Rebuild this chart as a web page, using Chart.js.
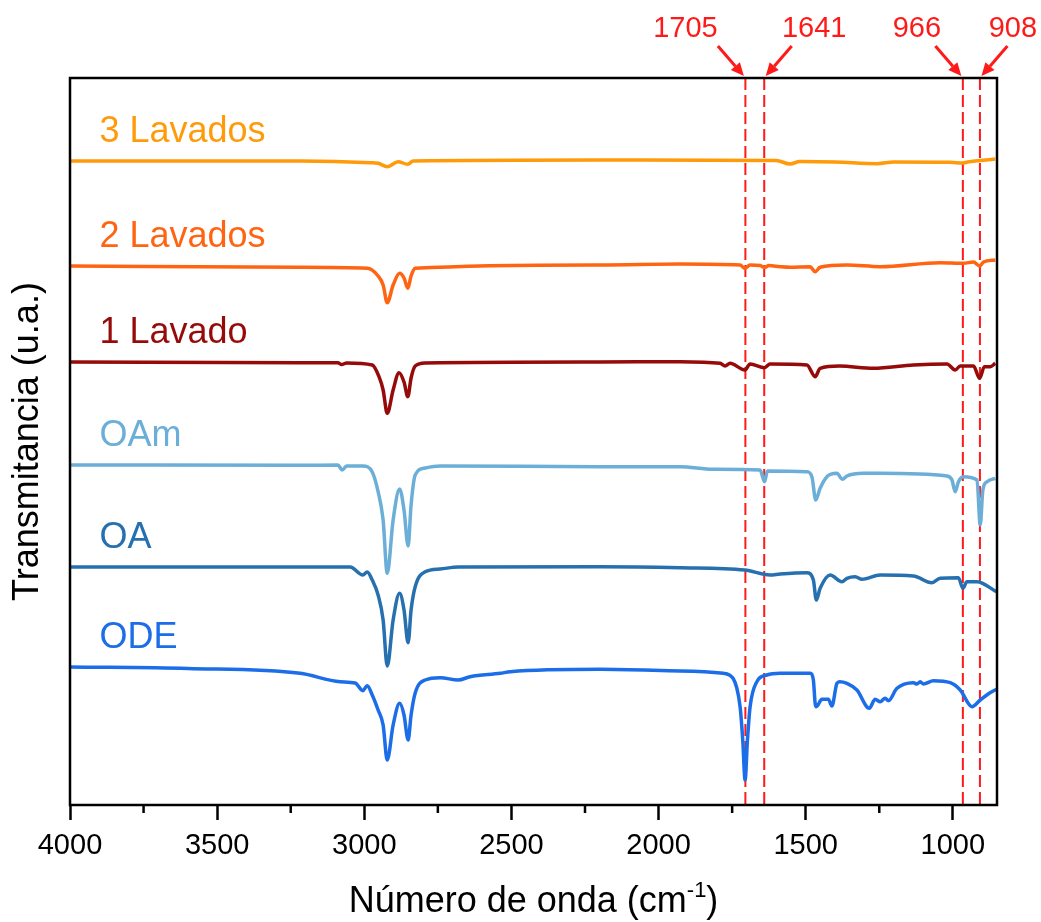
<!DOCTYPE html>
<html>
<head>
<meta charset="utf-8">
<script src="https://cdn.jsdelivr.net/npm/chart.js@4.4.1/dist/chart.umd.min.js"></script>
<style>
  body { margin: 0; background: #fff; }
  #wrap { width: 1041px; height: 922px; }
</style>
</head>
<body>
<div id="wrap"><canvas id="ftir"></canvas></div>
<script>
// espectros FTIR, desplazados verticalmente (u.a.)
const seriesNames = ['3 Lavados', '2 Lavados', '1 Lavado', 'OAm', 'OA', 'ODE'];
const seriesColors = ['#FF9A0A', '#FF6412', '#960A0A', '#6BAED8', '#2670B0', '#1C6DE8'];

const lav3X = [4000, 3218, 2980, 2953, 2922, 2885, 2852, 2834, 2199, 1600, 1553, 1520, 1400, 1257, 1200, 1009, 966, 950, 856];
const lav3Y = [644, 644, 642.3, 641.7, 638.3, 643.3, 640.7, 644, 645, 644.5, 641, 643.5, 643, 641.3, 643, 642.7, 642, 643, 646];

const lav2X = [4000, 3218, 2990, 2953, 2936, 2922, 2902, 2880, 2865, 2852, 2841, 2827, 2199, 1927, 1723, 1707, 1689, 1655, 1640, 1625, 1587, 1553, 1485, 1468, 1451, 1360, 1247, 1043, 964, 930, 909, 896, 856];
const lav2Y = [539, 537.7, 536.7, 529, 520, 502.3, 520, 531.7, 527, 516.7, 529, 536.7, 540, 541, 540, 536.7, 540, 539.5, 537.5, 539.5, 538.3, 537.7, 538.3, 533.3, 537.7, 540, 538.3, 542.3, 541.7, 543, 539, 543, 545];

const lav1X = [4000, 3218, 3090, 3077, 3060, 2973, 2950, 2936, 2922, 2902, 2882, 2865, 2852, 2841, 2827, 2793, 2199, 1927, 1791, 1774, 1757, 1707, 1689, 1640, 1621, 1496, 1468, 1451, 1385, 1270, 1134, 1020, 992, 975, 930, 909, 893, 873, 856];
const lav1Y = [443, 442.3, 442.3, 440.5, 442, 440, 428.3, 415, 391.7, 415, 432.3, 423, 408.3, 427, 439, 442, 443, 443.3, 441.7, 439, 441.7, 435, 441, 437.3, 441, 440, 428.3, 436.7, 439, 436.7, 440, 441, 435, 439, 439, 426.7, 438.3, 438.3, 441.7];

const oamX = [4000, 3218, 3090, 3075, 3060, 3005, 2973, 2953, 2936, 2922, 2902, 2880, 2865, 2851, 2841, 2827, 2793, 2742, 2199, 1927, 1814, 1655, 1640, 1630, 1496, 1479, 1466, 1451, 1428, 1394, 1375, 1360, 1304, 1247, 1020, 1003, 992, 981, 964, 918, 907, 898, 884, 856];
const oamY = [340, 339.7, 340, 335, 339, 339, 333, 313.3, 285, 231.7, 285, 316, 295, 259, 300, 330, 337, 339, 338.3, 338.3, 335.7, 335, 323.3, 334, 333.3, 328.3, 305, 316.7, 328.3, 331.7, 325.7, 329, 331.7, 331.7, 329, 325, 313.3, 323.3, 328.3, 325, 280, 315, 323.3, 326.7];

const oaX = [4000, 3218, 3048, 3005, 2990, 2973, 2953, 2936, 2922, 2902, 2880, 2865, 2851, 2841, 2827, 2793, 2742, 2681, 2199, 1927, 1707, 1621, 1587, 1496, 1474, 1464, 1451, 1417, 1377, 1360, 1332, 1309, 1247, 1134, 1071, 1043, 981, 966, 952, 918, 852];
const oaY = [238, 238, 238, 230, 233, 225, 210, 185, 139, 185, 211.7, 195, 162.3, 195, 218.3, 233.3, 236, 238, 238.3, 237.3, 235, 230, 231, 232.3, 225, 205, 216.7, 230, 223.3, 226.7, 228.3, 225.7, 230, 229, 222.3, 226.7, 227.3, 216.7, 223.3, 223.3, 213.3];

const odeX = [4000, 3600, 3218, 3082, 3031, 3005, 2990, 2973, 2953, 2936, 2922, 2902, 2880, 2865, 2851, 2841, 2827, 2793, 2742, 2681, 2640, 2538, 2504, 2199, 1927, 1780, 1747, 1723, 1714, 1706, 1698, 1689, 1666, 1632, 1587, 1485, 1474, 1468, 1464, 1445, 1423, 1411, 1394, 1385, 1360, 1326, 1284, 1264, 1247, 1230, 1219, 1190, 1134, 1122, 1111, 1100, 1066, 1009, 975, 935, 907, 880, 852];
const odeY = [138, 136.5, 131.7, 123.3, 122, 114.3, 119.3, 110, 95, 80, 45, 80, 101.7, 90, 65, 90, 112, 125, 127.3, 125, 128.3, 131.7, 133.3, 135.7, 134, 131.7, 126.7, 98.3, 65, 25, 65, 98.3, 123.3, 130, 131.7, 131.7, 125, 101.7, 98.3, 105.7, 105.7, 99, 121.7, 123.3, 121.7, 115, 96.7, 105.7, 103.3, 106.7, 104.3, 116.7, 122.3, 121, 123.3, 121, 124.3, 122.3, 115, 98.3, 105, 111, 115.7];

const seriesX = [lav3X, lav2X, lav1X, oamX, oaX, odeX];
const seriesY = [lav3Y, lav2Y, lav1Y, oamY, oaY, odeY];

const markerWavenumbers = [1705, 1641, 966, 908];
const xTicks = [4000, 3500, 3000, 2500, 2000, 1500, 1000];
const xMinorTicks = [3750, 3250, 2750, 2250, 1750, 1250];

const FONT = "'Liberation Sans', Arial, sans-serif";

// estilo de las anotaciones (no son datos)
const decor = {
    markerColor: '#FF1A1A',
    labelShift: [-60, 50, -46, 33],
    labelLift: 19
};

function drawArrow(ctx, x0, y0, x1, y1) {
    const ang = Math.atan2(y1 - y0, x1 - x0);
    const head = 13, half = 6;
    const bx = x1 - head * Math.cos(ang), by = y1 - head * Math.sin(ang);
    ctx.beginPath();
    ctx.moveTo(x0, y0);
    ctx.lineTo(bx, by);
    ctx.stroke();
    ctx.beginPath();
    ctx.moveTo(x1, y1);
    ctx.lineTo(bx + half * Math.sin(ang), by - half * Math.cos(ang));
    ctx.lineTo(bx - half * Math.sin(ang), by + half * Math.cos(ang));
    ctx.closePath();
    ctx.fill();
}

const spectraDecor = {
    id: 'spectraDecor',
    beforeDatasetsDraw(chart) {//lineas discontinuas rojas
        const {ctx, chartArea: a, scales: {x}} = chart;
        ctx.save();
        ctx.strokeStyle = decor.markerColor;
        ctx.lineWidth = 2;
        ctx.setLineDash([12, 5]);
        markerWavenumbers.forEach(w => {
            const px = x.getPixelForValue(w);
            ctx.beginPath();
            ctx.moveTo(px, a.top);
            ctx.lineTo(px, a.bottom);
            ctx.stroke();
        });
        ctx.restore();
    },
    afterDatasetsDraw(chart) {//nombres de cada espectro
        const {ctx, scales: {x, y}} = chart;
        ctx.save();
        ctx.font = '36px ' + FONT;
        ctx.textBaseline = 'alphabetic';
        ctx.textAlign = 'left';
        seriesNames.forEach((name, i) => {
            ctx.fillStyle = seriesColors[i];
            ctx.fillText(name, x.getPixelForValue(3900), y.getPixelForValue(seriesY[i][0] + decor.labelLift));
        });
        ctx.restore();
    },
    afterDraw(chart) {
        const {ctx, chartArea: a, scales: {x}} = chart;
        ctx.save();
        // marco
        ctx.strokeStyle = '#000';
        ctx.lineWidth = 2.5;
        ctx.strokeRect(a.left, a.top, a.right - a.left, a.bottom - a.top);
        // ticks menores
        xMinorTicks.forEach(v => {
            const px = x.getPixelForValue(v);
            ctx.beginPath();
            ctx.moveTo(px, a.bottom);
            ctx.lineTo(px, a.bottom + 8);
            ctx.stroke();
        });
        // etiquetas y flechas rojas
        ctx.fillStyle = decor.markerColor;
        ctx.strokeStyle = decor.markerColor;
        ctx.lineWidth = 3;
        ctx.font = '29px ' + FONT;
        ctx.textAlign = 'center';
        ctx.textBaseline = 'middle';
        markerWavenumbers.forEach((w, i) => {
            const px = x.getPixelForValue(w);
            const s = Math.sign(decor.labelShift[i]);
            ctx.fillText(String(w), px + decor.labelShift[i], 29);
            const tipX = px + s * 1.5;
            drawArrow(ctx, tipX + s * 26, a.top - 32, tipX, a.top - 2);
        });
        // titulo eje x con superindice
        ctx.fillStyle = '#000';
        ctx.textAlign = 'left';
        ctx.textBaseline = 'alphabetic';
        const main = 'Número de onda (cm';
        ctx.font = '36px ' + FONT;
        const w1 = ctx.measureText(main).width;
        const w3 = ctx.measureText(')').width;
        ctx.font = '22px ' + FONT;
        const w2 = ctx.measureText('-1').width;
        let tx = (a.left + a.right) / 2 - (w1 + w2 + w3) / 2;
        const base = 912;
        ctx.font = '36px ' + FONT;
        ctx.fillText(main, tx, base);
        ctx.font = '22px ' + FONT;
        ctx.fillText('-1', tx + w1, base - 15);
        ctx.font = '36px ' + FONT;
        ctx.fillText(')', tx + w1 + w2, base);
        ctx.restore();
    }
};

const ctx = document.getElementById('ftir').getContext('2d');
new Chart(ctx, {
    type: 'line',
    data: {
        datasets: seriesNames.map((name, i) => ({
            label: name,
            data: seriesX[i].map((v, j) => ({x: v, y: seriesY[i][j]})),
            borderColor: seriesColors[i],
            borderWidth: 3.5,
            pointRadius: 0,
            fill: false,
            cubicInterpolationMode: 'monotone'
        }))
    },
    options: {
        responsive: true,
        maintainAspectRatio: false,
        animation: false,
        layout: { padding: { top: 78, right: 44, left: 0, bottom: 0 } },
        plugins: { legend: { display: false }, tooltip: { enabled: false } },
        scales: {
            x: {
                type: 'linear',
                reverse: true,
                min: 850,
                max: 4000,
                afterBuildTicks(scale) { scale.ticks = xTicks.map(v => ({value: v})); },
                afterFit(scale) { scale.height = 117; },
                ticks: {
                    color: '#000',
                    font: { size: 29, family: FONT },
                    padding: 9,
                    maxRotation: 0,
                    autoSkip: false,
                    callback: v => String(v)
                },
                grid: { drawOnChartArea: false, tickLength: 15, tickWidth: 2.5, tickColor: '#000' },
                border: { display: false }
            },
            y: {
                min: 0,
                max: 727,
                afterFit(scale) { scale.width = 70; },
                ticks: { display: false },
                grid: { display: false },
                border: { display: false },
                title: {
                    display: true,
                    text: 'Transmitancia (u.a.)',
                    color: '#000',
                    font: { size: 36, family: FONT },
                    padding: { top: 6, bottom: 0 }
                }
            }
        }
    },
    plugins: [spectraDecor]
});
</script>
</body>
</html>
